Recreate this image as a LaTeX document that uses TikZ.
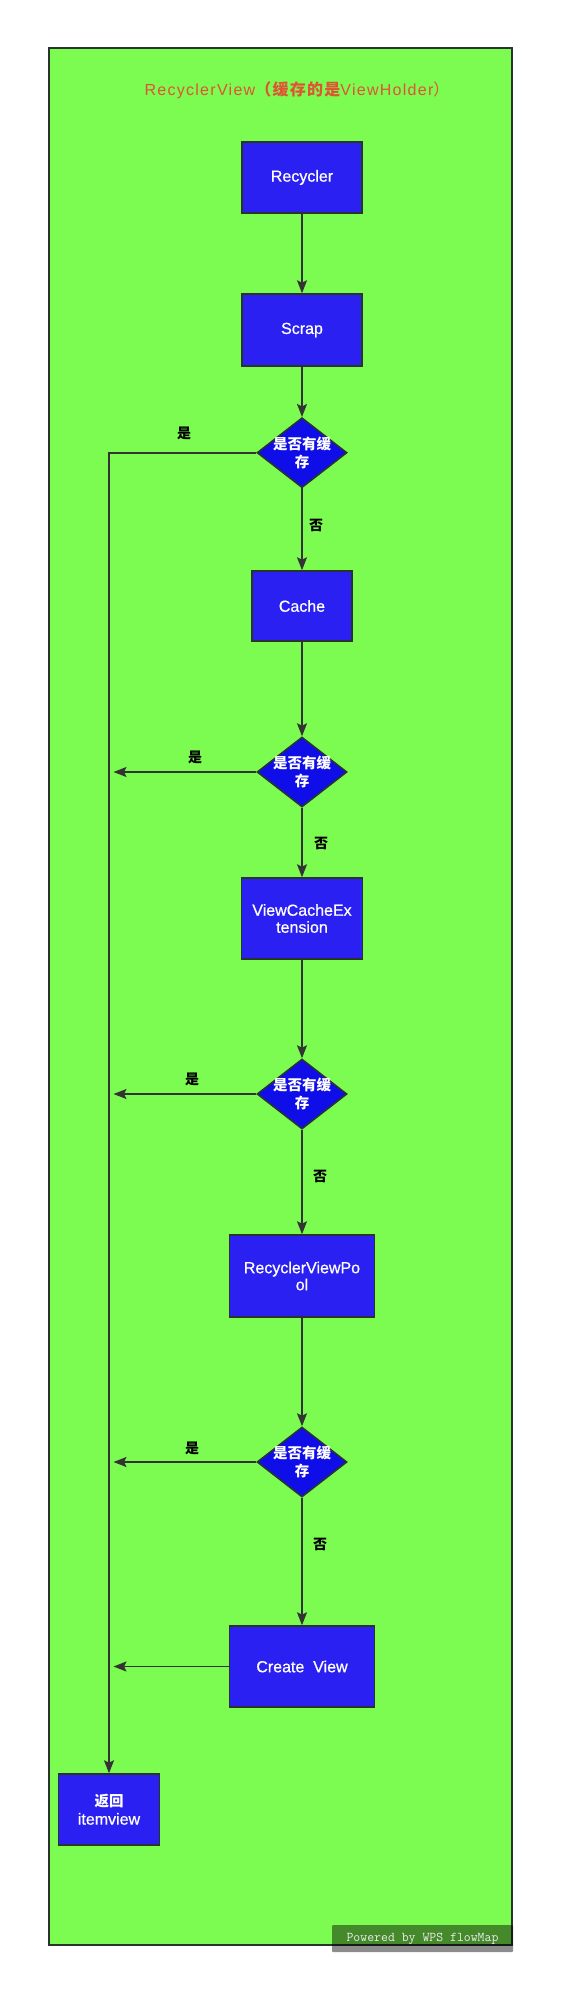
\documentclass[tikz,border=0pt]{standalone}
\usepackage{fontspec}
\setmainfont{Liberation Sans}
\newfontfamily\cjk{Noto Sans CJK SC}
\newfontfamily\boxfont[FakeBold=0.7]{Liberation Sans}
\newfontfamily\titlefont[LetterSpace=8]{Liberation Sans}
\newfontfamily\cjktitle[LetterSpace=8]{Noto Sans CJK SC}
\usetikzlibrary{shapes.geometric,arrows.meta}
\definecolor{bggreen}{RGB}{124,252,80}
\definecolor{boxblue}{RGB}{42,32,242}
\definecolor{diablue}{RGB}{16,14,232}
\definecolor{bordc}{RGB}{40,52,44}
\definecolor{linec}{RGB}{51,51,51}
\definecolor{titlec}{RGB}{222,84,52}
\tikzset{
  stepbox/.style={draw=bordc, line width=1.5pt, fill=boxblue, text=white, inner sep=0pt,
    align=center, font=\fontsize{16}{17}\selectfont\boxfont},
  decide/.style={diamond, draw=bordc, line width=1.5pt, fill=diablue, inner sep=0pt,
    minimum width=90pt, minimum height=70pt},
  dtext/.style={text=white, align=center, inner sep=0pt,
    font=\fontsize{14.5}{18}\selectfont\cjk\bfseries},
  lbl/.style={text=black, inner sep=0pt, font=\fontsize{14}{16}\selectfont\cjk\bfseries},
  conn/.style={draw=linec, line width=1.6pt},
  arr/.style={conn, -{Stealth[length=13pt,width=10pt,inset=2.5pt]}},
}
\begin{document}
\begin{tikzpicture}[x=1pt,y=-1pt]
\useasboundingbox (0,0) rectangle (574,2007);
\fill[white] (0,0) rectangle (574,2007);
\draw[draw=bordc, line width=2pt, fill=bggreen] (48.5,48.5) rectangle (512,1945);

\node[text=titlec, inner sep=0pt, font=\fontsize{16}{18}\selectfont] (title) at (297,90)
  {\titlefont RecyclerView\cjktitle\bfseries（缓存的是\titlefont\mdseries ViewHolder\cjktitle）};

\node[stepbox, minimum width=120pt, minimum height=71pt] (rec) at (302,177.5) {Recycler};
\node[stepbox, minimum width=120pt, minimum height=72pt] (scrap) at (302,330) {Scrap};
\node[decide] (d1) at (302,452.7) {};
\node[dtext] (d1t) at (d1.center) {是否有缓\\存};
\node[stepbox, minimum width=100pt, minimum height=70pt] (cache) at (302,606) {Cache};
\node[decide] (d2) at (302,772) {};
\node[dtext] (d2t) at (d2.center) {是否有缓\\存};
\node[stepbox, minimum width=121pt, minimum height=81pt] (vce) at (302,918.5) {ViewCacheEx\\tension};
\node[decide] (d3) at (302,1094) {};
\node[dtext] (d3t) at (d3.center) {是否有缓\\存};
\node[stepbox, minimum width=145pt, minimum height=82pt] (pool) at (302,1276) {RecyclerViewPo\\ol};
\node[decide] (d4) at (302,1462) {};
\node[dtext] (d4t) at (d4.center) {是否有缓\\存};
\node[stepbox, minimum width=145pt, minimum height=81pt] (create) at (302,1666.5) {Create\ \ View};
\node[stepbox, minimum width=101pt, minimum height=71pt, font=\fontsize{16}{18}\selectfont\boxfont] (ret) at (109,1809.5)
  {{\cjk\bfseries\fontsize{14.5}{18}\selectfont 返回}\\itemview};

\node[lbl] (y1) at (184,433) {是};
\node[lbl] (n1) at (316,525) {否};
\node[lbl] (y2) at (195,757) {是};
\node[lbl] (n2) at (321,843) {否};
\node[lbl] (y3) at (192,1079) {是};
\node[lbl] (n3) at (320,1176) {否};
\node[lbl] (y4) at (192,1448) {是};
\node[lbl] (n4) at (320,1544) {否};

\coordinate (c1) at (ret.north |- d1.west);
\coordinate (c2) at (113.5,772);
\coordinate (c3) at (113.5,1094);
\coordinate (c4) at (113.5,1462);
\coordinate (c5) at (113.5,1666.5);

\draw[arr] (rec) -- (scrap);
\draw[arr] (scrap) -- (d1);
\draw[arr] (d1) -- (cache);
\draw[arr] (cache) -- (d2);
\draw[arr] (d2) -- (vce);
\draw[arr] (vce) -- (d3);
\draw[arr] (d3) -- (pool);
\draw[arr] (pool) -- (d4);
\draw[arr] (d4) -- (create);
\draw[arr] (d1.west) -- (c1) -- (ret.north);
\draw[arr] (d2.west) -- (c2);
\draw[arr] (d3.west) -- (c3);
\draw[arr] (d4.west) -- (c4);
\draw[arr] (create.west) -- (c5);

\node[fill=black, fill opacity=0.45, text opacity=1, text=white!92!black, inner sep=0pt,
  minimum width=181pt, minimum height=27pt, rounded corners=1pt,
  font=\fontsize{13.4}{15}\selectfont\ttfamily] (wm) at (422.5,1938.5) {Powered by WPS flowMap};
\end{tikzpicture}
\end{document}
